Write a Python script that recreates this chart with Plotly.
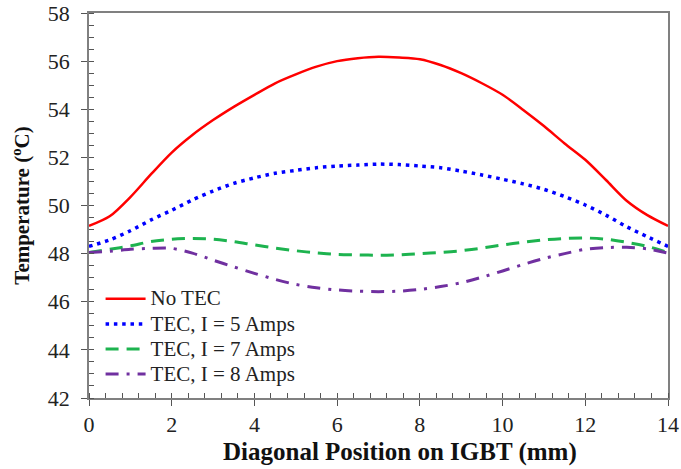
import plotly.graph_objects as go

x_mm = [0, 0.5, 1, 1.5, 2, 2.5, 3, 3.5, 4, 4.5, 5, 5.5, 6, 6.5, 7,
        7.5, 8, 8.5, 9, 9.5, 10, 10.5, 11, 11.5, 12, 12.5, 13, 13.5, 14]
no_tec = [49.15, 49.55, 50.35, 51.3, 52.2, 52.93, 53.55, 54.1, 54.6, 55.08, 55.45, 55.77, 56.0, 56.12, 56.18,
          56.15, 56.08, 55.84, 55.5, 55.08, 54.6, 53.97, 53.3, 52.58, 51.9, 51.06, 50.2, 49.6, 49.15]
tec_5a = [48.3, 48.57, 48.95, 49.4, 49.8, 50.23, 50.6, 50.92, 51.15, 51.34, 51.46, 51.57, 51.64, 51.68, 51.72,
          51.7, 51.64, 51.57, 51.43, 51.27, 51.09, 50.9, 50.67, 50.37, 50.02, 49.6, 49.12, 48.7, 48.3]
tec_7a = [48.05, 48.18, 48.32, 48.5, 48.6, 48.63, 48.6, 48.5, 48.36, 48.23, 48.12, 48.03, 47.97, 47.95, 47.93,
          47.95, 48.0, 48.05, 48.12, 48.23, 48.36, 48.47, 48.57, 48.63, 48.65, 48.6, 48.47, 48.3, 48.05]
tec_8a = [48.05, 48.1, 48.18, 48.22, 48.22, 48.02, 47.73, 47.45, 47.18, 46.93, 46.72, 46.58, 46.49, 46.44, 46.42,
          46.44, 46.51, 46.63, 46.79, 47.02, 47.28, 47.55, 47.8, 48.0, 48.18, 48.25, 48.26, 48.2, 48.02]
names = ["No TEC", "TEC, I = 5 Amps", "TEC, I = 7 Amps", "TEC, I = 8 Amps"]
x_title = "Diagonal Position on IGBT (mm)"
y_title = "Temperature (<sup>o</sup>C)"

font = "Liberation Serif, Times New Roman, serif"
fig = go.Figure()
styles = [
    dict(color="#ff0000", width=2.5, dash="solid"),
    dict(color="#0000ff", width=3.5, dash="3.5px,4.8px"),
    dict(color="#1db34f", width=3, dash="13px,8px"),
    dict(color="#7030a0", width=3, dash="13px,8px,3px,8px"),
]
for ys, nm, st in zip([no_tec, tec_5a, tec_7a, tec_8a], names, styles):
    fig.add_trace(go.Scatter(x=x_mm, y=ys, name=f'<span style="font-size:21px">{nm}</span>', mode="lines",
                             line=dict(shape="spline", smoothing=0.8, **st)))

axcommon = dict(showgrid=False, zeroline=False, showline=True, linecolor="#808080", linewidth=1.5,
                mirror=True, ticks="outside", ticklen=6, tickcolor="#555", tickwidth=1, automargin=False,
                tickfont=dict(family=font, size=22, color="#222"))
fig.update_xaxes(range=[0, 14], dtick=2, tick0=0,
                 minor=dict(dtick=0.4, ticks="inside", ticklen=5, tickcolor="#555"), **axcommon)
fig.update_yaxes(range=[42, 58], dtick=2, tick0=42, ticklabelstandoff=7,
                 title=dict(text=f"<b>{y_title}</b>", font=dict(family=font, size=21, color="#111"), standoff=12),
                 minor=dict(dtick=0.5, ticks="inside", ticklen=5, tickcolor="#555"), **axcommon)

fig.add_annotation(text=f"<b>{x_title}</b>", xref="paper", yref="paper", x=0.537, y=-0.14,
                   xanchor="center", yanchor="middle", showarrow=False,
                   font=dict(family=font, size=25, color="#111"))

fig.update_layout(
    width=681, height=469,
    margin=dict(l=89, r=13, t=13, b=71),
    plot_bgcolor="white", paper_bgcolor="white",
    showlegend=True,
    legend=dict(x=0.02, y=0.015, xanchor="left", yanchor="bottom", bgcolor="rgba(0,0,0,0)",
                font=dict(family=font, size=17, color="#222"), tracegroupgap=0, itemwidth=40),
)
fig.write_html("out.html")
